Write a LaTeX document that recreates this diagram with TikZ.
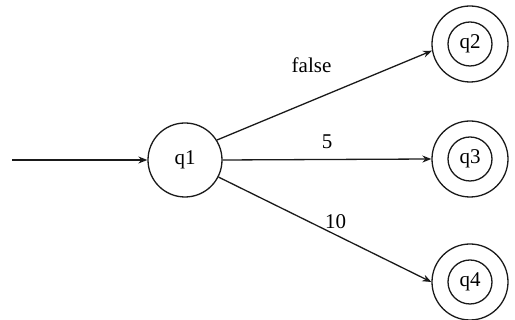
\documentclass[tikz,border=0pt]{standalone}
\usepackage{fontspec}
\setmainfont{Liberation Serif}
\usepackage{tikz}
\usetikzlibrary{positioning, arrows.meta}
\definecolor{inkblack}{HTML}{1A1A1A}

\begin{document}
\begin{tikzpicture}[x=1pt, y=1pt,
    state/.style={circle, draw=inkblack, line width=1.3pt, minimum size=74pt, inner sep=0pt,
                  font=\fontsize{21}{25}\selectfont},
    final/.style={circle, draw=inkblack, line width=1.3pt, minimum size=76pt, inner sep=0pt},
    finalin/.style={circle, draw=inkblack, line width=1.3pt, minimum size=44pt, inner sep=0pt,
                    font=\fontsize{21}{25}\selectfont},
    arr/.style={draw=inkblack, line width=1.3pt, -{Stealth[length=9pt, width=7pt]}},
    lbl/.style={inner sep=0pt, font=\fontsize{21}{25}\selectfont}]
    \useasboundingbox (0,0) rectangle (515,320);
    % states
    \node[state] (q1) at (185,160) {q1};
    \node[final] (q2) at (470,276) {};
    \node[finalin] (q2in) at (q2) {q2};
    \node[final] (q3) at (470,161) {};
    \node[finalin] (q3in) at (q3) {q3};
    \node[final] (q4) at (470,38) {};
    \node[finalin] (q4in) at (q4) {q4};
    \coordinate (start) at (12,160);
    % transitions
    \draw[arr] (start) -- (q1.west);
    \draw[arr] (q1.32) -- node[lbl, pos=0.44, yshift=36pt] {false} (q2.190);
    \draw[arr] (q1.east) -- node[lbl, pos=0.5, yshift=18pt] {5} (q3.west);
    \draw[arr] (q1.-27) -- node[lbl, pos=0.55, yshift=13pt] {10} (q4.west);
  \end{tikzpicture}
\end{document}
